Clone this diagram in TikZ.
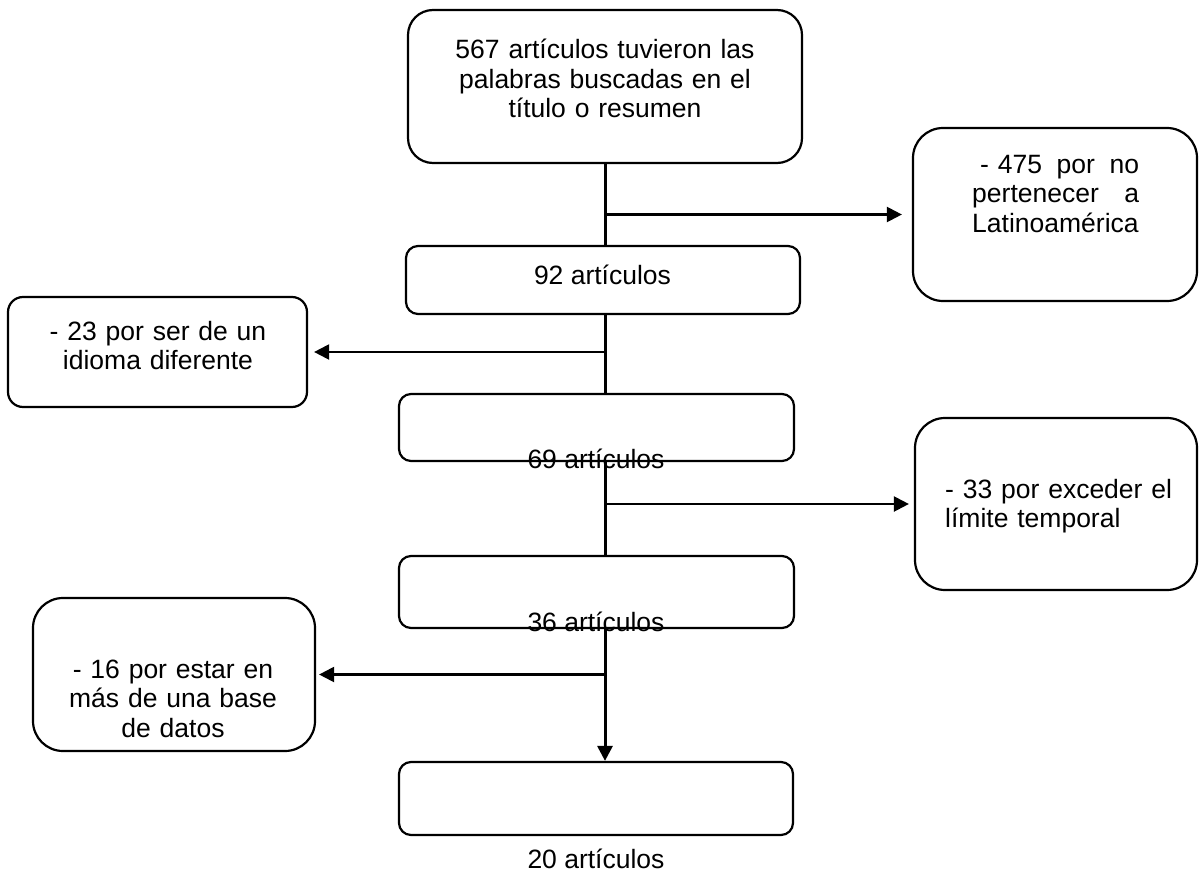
\documentclass[tikz,border=0pt]{standalone}
\usepackage{fontspec}
\setmainfont{Liberation Sans}
\usetikzlibrary{arrows.meta}

\begin{document}
\begin{tikzpicture}[
  x=1pt, y=-1pt,
  box/.style={draw, line width=2.2pt, rounded corners=12pt, inner sep=0pt},
  txt/.style={inner sep=0pt, font=\fontsize{26.5}{29.5}\selectfont},
  >={Triangle[length=15pt,width=15pt]},
  trunk/.style={line width=3pt},
  branch/.style={->, line width=2.2pt}
]
  \useasboundingbox (0,0) rectangle (1199,875);

  % boxes of the flow
  \node[box, rounded corners=25pt, minimum width=394pt, minimum height=153pt] (top) at (605,86.5) {};
  \node[box, minimum width=394pt, minimum height=68pt] (b92) at (603,280) {};
  \node[box, minimum width=395pt, minimum height=67pt] (b69) at (596.5,427.5) {};
  \node[box, minimum width=395pt, minimum height=72pt] (b36) at (596.5,592) {};
  \node[box, minimum width=394pt, minimum height=73pt] (b20) at (596,798.5) {};

  % boxes of the exclusions
  \node[box, rounded corners=30pt, minimum width=284pt, minimum height=173pt] (rb1) at (1055,214.5) {};
  \node[box, rounded corners=15pt, minimum width=299pt, minimum height=110pt] (lb1) at (157.5,352) {};
  \node[box, rounded corners=30pt, minimum width=282pt, minimum height=172pt] (rb2) at (1056,504) {};
  \node[box, rounded corners=30pt, minimum width=282pt, minimum height=153pt] (lb3) at (174,674.5) {};

  % texts
  \node[txt, text width=330pt, align=center, anchor=base] (ttop) at (605,59)
    {567 artículos tuvieron las\\palabras buscadas en el\\título o resumen};
  \node[txt, anchor=base] (t92) at (602.5,284) {92 artículos};
  \node[txt, anchor=base] (t69) at (596,468) {69 artículos};
  \node[txt, anchor=base] (t36) at (596,631) {36 artículos};
  \node[txt, anchor=base] (t20) at (596,868) {20 artículos};
  \node[txt, text width=167pt, align=left, anchor=base west] (trb1) at (972,173)
    {\hspace*{8pt}\makebox[159pt][l]{- 475\hfill por\hfill no}\\\makebox[167pt][l]{pertenecer\hfill a}\\Latinoamérica};
  \node[txt, text width=260pt, align=center, anchor=base] (tlb1) at (158,340)
    {- 23 por ser de un\\idioma diferente};
  \node[txt, text width=240pt, align=left, anchor=base west] (trb2) at (945,498)
    {- 33 por exceder el\\límite temporal};
  \node[txt, text width=250pt, align=center, anchor=base] (tlb3) at (173,678)
    {- 16 por estar en\\más de una base\\de datos};

  % trunk
  \draw[trunk] (top.south) -- (top.south |- b92.north);
  \draw[trunk] (top.south |- b92.south) -- (top.south |- b69.north);
  \draw[trunk] (top.south |- b69.south) -- (top.south |- b36.north);
  \draw[trunk, ->] (top.south |- b36.south) -- (top.south |- b20.north);

  % exclusions
  \draw[branch, shorten >=10pt] (top.south |- rb1.west) -- (rb1.west);
  \draw[branch, shorten >=6pt] (top.south |- lb1.east) -- (lb1.east);
  \draw[branch, shorten >=5pt] (top.south |- rb2.west) -- (rb2.west);
  \draw[branch, shorten >=3pt] ([xshift=2pt]top.south |- lb3.east) -- (lb3.east);
\end{tikzpicture}
\end{document}
